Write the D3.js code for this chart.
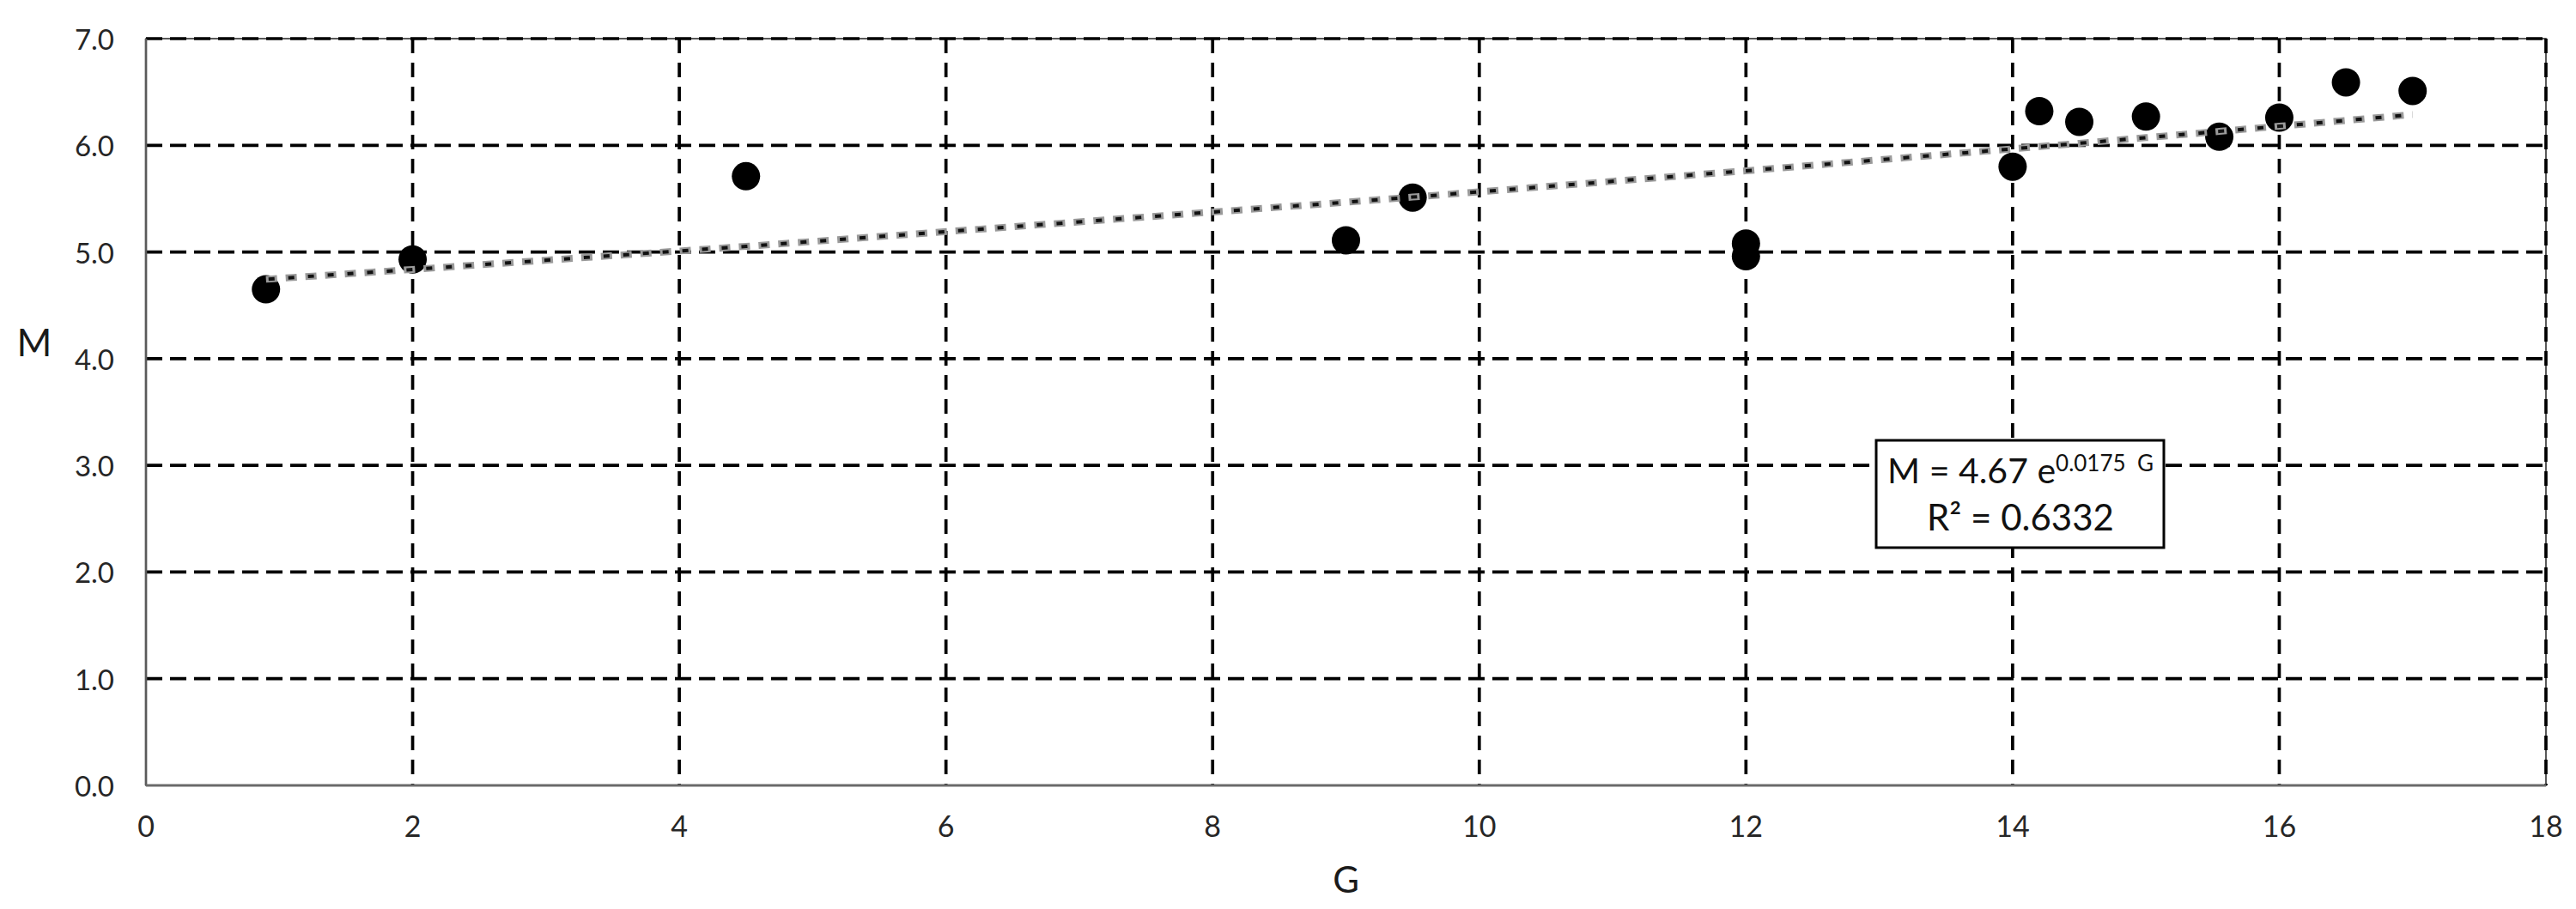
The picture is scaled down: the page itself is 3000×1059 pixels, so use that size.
<!DOCTYPE html>
<html>
<head>
<meta charset="utf-8">
<script src="https://cdn.jsdelivr.net/npm/d3@7"></script>
<style>
  html, body { margin: 0; padding: 0; background: #fff; }
  svg { display: block; font-family: Lato, "Open Sans", sans-serif; }
</style>
</head>
<body>
<svg id="chart"></svg>
<script>
// data
const gValues = [0.9, 2, 4.5, 9, 9.5, 12, 12, 14, 14.2, 14.5, 15, 15.55, 16, 16.5, 17];
const mValues = [4.65, 4.93, 5.71, 5.11, 5.51, 5.08, 4.96, 5.80, 6.32, 6.22, 6.27, 6.08, 6.26, 6.59, 6.51];

const xTicks = [0, 2, 4, 6, 8, 10, 12, 14, 16, 18];
const yTicks = [0, 1, 2, 3, 4, 5, 6, 7];

// exponential trendline as printed in the chart
const trendA = 4.67;
const trendB = 0.0175;
const eqText = ['M = 4.67 e', '0.0175\u00A0\u00A0G'];
const r2Text = 'R\u00B2 = 0.6332';

width = 3000
height = 1059
marginTop = 45
marginRight = 35
marginBottom = 144
marginLeft = 170

const svg = d3.select('#chart')
  .attr('width', width)
  .attr('height', height)
  .attr('viewBox', [0, 0, width, height]);

const x = d3.scaleLinear().domain([0, 18]).range([marginLeft, width - marginRight]);
const y = d3.scaleLinear().domain([0, 7]).range([height - marginBottom, marginTop]);

// thin plot-area border
svg.append('rect')
  .attr('x', x(0))
  .attr('y', y(7))
  .attr('width', x(18) - x(0))
  .attr('height', y(0) - y(7))
  .attr('fill', 'none')
  .attr('stroke', '#222')
  .attr('stroke-width', 1.5);

// horizontal gridlines
svg.append('g')
  .selectAll('line')
  .data(yTicks.filter(d => d > 0))
  .enter().append('line')
  .attr('x1', x(0))
  .attr('x2', x(18))
  .attr('y1', d => y(d))
  .attr('y2', d => y(d))
  .attr('stroke', '#000')
  .attr('stroke-width', 3.7)
  .attr('stroke-dasharray', '19,9');

// vertical gridlines
svg.append('g')
  .selectAll('line')
  .data(xTicks.filter(d => d > 0))
  .enter().append('line')
  .attr('x1', d => x(d))
  .attr('x2', d => x(d))
  .attr('y1', y(7))
  .attr('y2', y(0))
  .attr('stroke', '#000')
  .attr('stroke-width', 3.7)
  .attr('stroke-dasharray', '17,11');

// axis lines
svg.append('line')
  .attr('x1', x(0)).attr('x2', x(0))
  .attr('y1', y(7)).attr('y2', y(0))
  .attr('stroke', '#5a5a5a')
  .attr('stroke-width', 2.7);
svg.append('line')
  .attr('x1', x(0)).attr('x2', x(18))
  .attr('y1', y(0)).attr('y2', y(0))
  .attr('stroke', '#6a6a6a')
  .attr('stroke-width', 3);

// tick labels
svg.append('g')
  .selectAll('text')
  .data(yTicks)
  .enter().append('text')
  .text(d3.format('.1f'))
  .attr('x', x(0) - 37)
  .attr('y', d => y(d))
  .attr('dominant-baseline', 'central')
  .style('text-anchor', 'end')
  .style('font-size', '33px')
  .attr('fill', '#262626');

svg.append('g')
  .selectAll('text')
  .data(xTicks)
  .enter().append('text')
  .text(d => d)
  .attr('x', d => x(d))
  .attr('y', 975)
  .style('text-anchor', 'middle')
  .style('font-size', '34px')
  .attr('fill', '#262626');

// axis titles
svg.append('text')
  .text('M')
  .attr('x', 40)
  .attr('y', 415)
  .style('text-anchor', 'middle')
  .style('font-size', '44px')
  .attr('fill', '#1a1a1a');
svg.append('text')
  .text('G')
  .attr('x', (x(0) + x(18)) / 2)
  .attr('y', 1040)
  .style('text-anchor', 'middle')
  .style('font-size', '42px')
  .attr('fill', '#1a1a1a');

// markers
svg.append('g')
  .selectAll('circle')
  .data(gValues)
  .enter().append('circle')
  .attr('cx', d => x(d))
  .attr('cy', (d, i) => y(mValues[i]))
  .attr('r', 16.5)
  .attr('fill', '#000');

// trendline over the fitted range
const gTrend = Array.from(new Set(gValues)).sort(d3.ascending);
const trendLine = d3.line()
  .x(d => x(d))
  .y(d => y(trendA * Math.exp(trendB * d)));

svg.append('path')
  .attr('d', trendLine(gTrend))
  .attr('fill', 'none')
  .attr('stroke', '#9a9a9a')
  .attr('stroke-width', 8)
  .attr('stroke-dasharray', '13,10');
svg.append('path')
  .attr('d', trendLine(gTrend))
  .attr('fill', 'none')
  .attr('stroke', '#111')
  .attr('stroke-width', 4)
  .attr('stroke-dasharray', '7,16')
  .attr('stroke-dashoffset', -3);

// equation label box
const box = svg.append('g');
box.append('rect')
  .attr('x', 2185)
  .attr('y', 513)
  .attr('width', 335)
  .attr('height', 125)
  .attr('fill', '#fff')
  .attr('stroke', '#000')
  .attr('stroke-width', 3);

const eq = box.append('text')
  .attr('x', 2353)
  .attr('y', 563)
  .style('text-anchor', 'middle')
  .style('font-size', '41px')
  .attr('fill', '#111');
eq.append('tspan').text(eqText[0]);
eq.append('tspan')
  .text(eqText[1])
  .attr('dy', -14)
  .style('font-size', '26px');

box.append('text')
  .text(r2Text)
  .attr('x', 2353)
  .attr('y', 618)
  .style('text-anchor', 'middle')
  .style('font-size', '42px')
  .attr('fill', '#111');
</script>
</body>
</html>
